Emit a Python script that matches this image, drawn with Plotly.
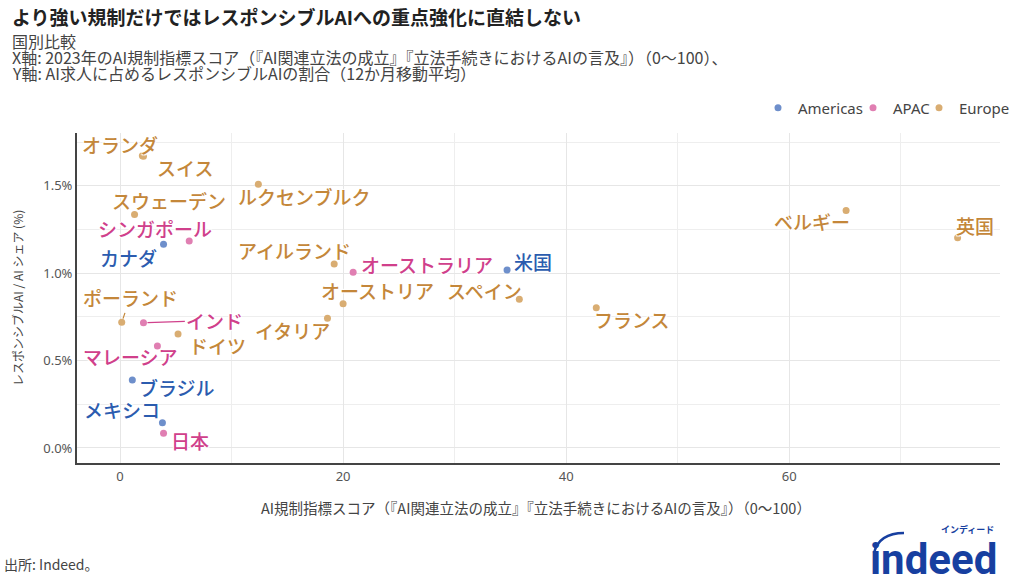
import plotly.graph_objects as go

# data
countries = ["オランダ", "スイス", "ルクセンブルク", "スウェーデン", "シンガポール", "カナダ",
             "アイルランド", "オーストラリア", "米国", "スペイン", "オーストリア", "イタリア",
             "ベルギー", "英国", "フランス", "ポーランド", "インド", "ドイツ", "マレーシア",
             "ブラジル", "メキシコ", "日本"]
regions = ["Europe", "Europe", "Europe", "Europe", "APAC", "Americas",
           "Europe", "APAC", "Americas", "Europe", "Europe", "Europe",
           "Europe", "Europe", "Europe", "Europe", "APAC", "Europe", "APAC",
           "Americas", "Americas", "APAC"]
reg_score = [2.0, 2.1, 12.4, 1.3, 6.2, 3.9,
             19.2, 20.9, 34.7, 35.8, 20.0, 18.6,
             65.1, 75.1, 42.7, 0.15, 2.1, 5.2, 3.35,
             1.1, 3.8, 3.9]
rai_share = [1.673, 1.67, 1.509, 1.336, 1.185, 1.166,
             1.053, 1.006, 1.019, 0.851, 0.826, 0.742,
             1.36, 1.204, 0.803, 0.719, 0.717, 0.653, 0.584,
             0.389, 0.145, 0.084]
# label positions (repelled text)
label_x = [0.0, 5.8, 16.5, 4.4, 3.1, 0.8,
           15.6, 27.5, 37.0, 32.7, 23.05, 15.5,
           62.0, 76.7, 45.9, 0.9, 8.5, 8.7, 0.9,
           5.1, 0.2, 6.3]
label_y = [1.740, 1.603, 1.437, 1.414, 1.254, 1.093,
           1.128, 1.053, 1.065, 0.904, 0.899, 0.675,
           1.299, 1.276, 0.733, 0.859, 0.730, 0.588, 0.521,
           0.349, 0.218, 0.040]
with_leader = ["ポーランド", "インド"]

region_order = ["Americas", "APAC", "Europe"]
dot_colors = {"Americas": "#6E8FCB", "APAC": "#E07FB2", "Europe": "#D9AD72"}
text_colors = {"Americas": "#2B5CAF", "APAC": "#D0408B", "Europe": "#C4873A"}
legend_ids = {"Americas": "legend", "APAC": "legend2", "Europe": "legend3"}
legend_dot_px = {"Americas": 776, "APAC": 871, "Europe": 937}

FONT = "Noto Sans, Noto Sans CJK JP, sans-serif"
JP = "Noto Sans CJK JP, Noto Sans, sans-serif"
HALO = "1px 1px 1px #fff, -1px -1px 1px #fff, 1px -1px 1px #fff, -1px 1px 1px #fff"


def py(p):
    # pixel row -> paper y (plot area spans rows 133..463)
    return (463 - p) / 330


def px(p):
    # pixel column -> paper x (plot area spans columns 77..1000)
    return (p - 77) / 923


fig = go.Figure()

for reg in region_order:
    idx = [i for i, r in enumerate(regions) if r == reg]
    fig.add_trace(go.Scatter(
        x=[reg_score[i] for i in idx],
        y=[rai_share[i] for i in idx],
        mode="markers",
        name=reg,
        legend=legend_ids[reg],
        marker=dict(color=dot_colors[reg], size=7),
        hovertext=[countries[i] for i in idx],
    ))

annotations = []
for i, name in enumerate(countries):
    col = text_colors[regions[i]]
    a = dict(text=name, xref="x", yref="y", x=label_x[i], y=label_y[i],
             showarrow=False, xanchor="center", yanchor="middle",
             font=dict(family=JP, size=19, color=col, weight=500, shadow=HALO))
    if name in with_leader:
        a.update(x=reg_score[i], y=rai_share[i], ax=label_x[i], ay=label_y[i],
                 axref="x", ayref="y", showarrow=True, arrowhead=0,
                 arrowwidth=1.2, arrowcolor=col, standoff=4)
    annotations.append(a)

sub = dict(family=JP, size=16, color="#444")
annotations += [
    dict(text="<b>より強い規制だけではレスポンシブルAIへの重点強化に直結しない</b>",
         xref="paper", yref="paper", x=px(10), y=py(17), xanchor="left",
         yanchor="middle", showarrow=False, font=dict(family=JP, size=19, color="#222")),
    dict(text="国別比較", xref="paper", yref="paper", x=px(10), y=py(41),
         xanchor="left", yanchor="middle", showarrow=False, font=sub),
    dict(text="X軸: 2023年のAI規制指標スコア（『AI関連立法の成立』『立法手続きにおけるAIの言及』）（0〜100）、",
         xref="paper", yref="paper", x=px(10), y=py(57),
         xanchor="left", yanchor="middle", showarrow=False, font=sub),
    dict(text="Y軸: AI求人に占めるレスポンシブルAIの割合（12か月移動平均）",
         xref="paper", yref="paper", x=px(10), y=py(73),
         xanchor="left", yanchor="middle", showarrow=False, font=sub),
    dict(text="レスポンシブルAI / AI シェア (%)", xref="paper", yref="paper",
         x=px(17), y=0.5, textangle=-90, showarrow=False,
         xanchor="center", yanchor="middle",
         font=dict(family=JP, size=12, color="#444")),
    dict(text="AI規制指標スコア（『AI関連立法の成立』『立法手続きにおけるAIの言及』）（0〜100）",
         xref="paper", yref="paper", x=px(536), y=py(508), showarrow=False,
         xanchor="center", yanchor="middle",
         font=dict(family=JP, size=14.5, color="#444")),
    dict(text="出所: Indeed。", xref="paper", yref="paper", x=px(2),
         y=py(564), xanchor="left", yanchor="middle", showarrow=False,
         font=dict(family=JP, size=14, color="#444")),
    dict(text="<b>indeed</b>", xref="paper", yref="paper", x=px(999),
         y=py(559), xanchor="right", yanchor="middle", showarrow=False,
         font=dict(family="Roboto, sans-serif", size=42, color="#173FA0")),
    dict(text="<b>インディード</b>", xref="paper", yref="paper", x=px(996),
         y=py(529), xanchor="right", yanchor="middle", showarrow=False,
         font=dict(family=JP, size=9, color="#173FA0")),
]

legend_style = dict(orientation="h", xanchor="left", y=py(108), yanchor="middle",
                    font=dict(size=15, color="#444"), itemwidth=30,
                    bgcolor="rgba(0,0,0,0)")

fig.update_layout(
    width=1024, height=585,
    margin=dict(l=77, r=24, t=133, b=122, autoexpand=False),
    paper_bgcolor="white", plot_bgcolor="white",
    font=dict(family=FONT, color="#444"),
    showlegend=True,
    legend=dict(legend_style, x=px(legend_dot_px["Americas"] - 18)),
    legend2=dict(legend_style, x=px(legend_dot_px["APAC"] - 18)),
    legend3=dict(legend_style, x=px(legend_dot_px["Europe"] - 18)),
    annotations=annotations,
    shapes=[dict(type="path", xref="paper", yref="paper",
                 path="M %f,%f Q %f,%f %f,%f" % (px(874), py(553), px(879), py(533),
                                                  px(904), py(533)),
                 line=dict(color="#173FA0", width=2.5))],
)
fig.update_xaxes(range=[-3.86, 78.9], dtick=20, tick0=0,
                 showgrid=True, gridcolor="#E6E6E6", gridwidth=1,
                 minor=dict(dtick=10, showgrid=True, gridcolor="#EEEEEE"),
                 zeroline=False, showline=True, linecolor="#444", linewidth=2,
                 tickfont=dict(size=13, color="#555"), ticks="")
fig.update_yaxes(range=[-0.086, 1.803], dtick=0.5, tick0=0,
                 tickformat=".1f", ticksuffix="%",
                 showgrid=True, gridcolor="#E6E6E6", gridwidth=1,
                 minor=dict(dtick=0.25, showgrid=True, gridcolor="#EEEEEE"),
                 zeroline=False, showline=True, linecolor="#444", linewidth=2,
                 tickfont=dict(size=13, color="#555"), ticks="")

fig.write_html("out.html", config={"displayModeBar": False},
               post_script="document.body.style.margin='0';")
